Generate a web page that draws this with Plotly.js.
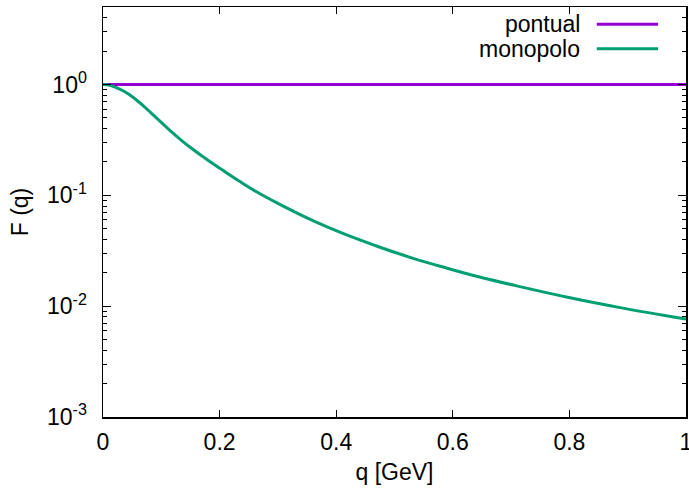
<!DOCTYPE html>
<html>
<head>
<meta charset="utf-8">
<script src="https://cdn.plot.ly/plotly-3.0.1.min.js"></script>
<style>html,body{margin:0;padding:0;background:#fff;}#chart{width:689px;height:493px;}</style>
</head>
<body>
<div id="chart"></div>
<script>
// Data
var qPontual = [0, 1];
var fPontual = [1, 1];

var qMonopolo = [0, 0.01, 0.02, 0.036, 0.045, 0.06, 0.075, 0.0935, 0.105, 0.12, 0.135, 0.15, 0.165, 0.18, 0.207, 0.235, 0.264, 0.30, 0.361, 0.418, 0.475, 0.532, 0.589, 0.646, 0.715, 0.801, 0.887, 1.0];
var fMonopolo = [1, 0.989, 0.953, 0.869, 0.811, 0.706, 0.603, 0.489, 0.430, 0.364, 0.312, 0.270, 0.236, 0.2075, 0.1663, 0.133, 0.107, 0.0845, 0.0587, 0.0439, 0.0340, 0.0270, 0.0221, 0.0183, 0.0150, 0.0119, 0.0097, 0.00764];

var yTickVals = [0.001, 0.01, 0.1, 1];
var yTickText = ['10<sup>-3</sup>', '10<sup>-2</sup>', '10<sup>-1</sup>', '10<sup>0</sup>'];
var xTickVals = [0, 0.2, 0.4, 0.6, 0.8, 1];
var xTickText = ['0', '0.2', '0.4', '0.6', '0.8', '1'];
var seriesNames = ['pontual', 'monopolo'];
var seriesColors = ['#9400D3', '#009E73'];

var minorVals = [];
yTickVals.forEach(function (d) {
  for (var k = 2; k <= 9; k++) minorVals.push(d * k);
});

var font = {family: 'Liberation Sans, Arial, sans-serif', size: 23, color: '#000'};
var yRange = [-3, Math.log10(5)];

var traces = [
  {x: qPontual, y: fPontual, mode: 'lines', name: seriesNames[0], line: {color: seriesColors[0], width: 3}, showlegend: false},
  {x: qMonopolo, y: fMonopolo, mode: 'lines', name: seriesNames[1], line: {color: seriesColors[1], width: 3, shape: 'spline', smoothing: 1}, showlegend: false}
];

// legend (gnuplot style: text right, sample on the right)
var legY = [0.958, 0.898];
var shapes = [], annotations = [];
for (var i = 0; i < 2; i++) {
  shapes.push({type: 'line', xref: 'paper', yref: 'paper', x0: 0.847, x1: 0.952, y0: legY[i], y1: legY[i], line: {color: seriesColors[i], width: 3}});
  annotations.push({xref: 'paper', yref: 'paper', x: 0.822, y: legY[i], xanchor: 'right', yanchor: 'middle', text: seriesNames[i], showarrow: false, font: font});
}

var layout = {
  width: 689, height: 493,
  margin: {l: 103, r: 3, t: 7, b: 76},
  paper_bgcolor: '#fff', plot_bgcolor: '#fff',
  font: font,
  showlegend: false,
  xaxis: {
    range: [0, 1], showgrid: false, zeroline: false,
    showline: true, linecolor: '#000', linewidth: 1.5, mirror: 'ticks',
    ticks: 'inside', ticklen: 7, tickcolor: '#000', tickwidth: 1,
    tickmode: 'array', tickvals: xTickVals, ticktext: xTickText,
    ticklabeloverflow: 'allow', ticklabelstandoff: 4,
    title: {text: 'q [GeV]', font: font, standoff: 10}
  },
  yaxis: {
    type: 'log', range: yRange, showgrid: false, zeroline: false,
    showline: true, linecolor: '#000', linewidth: 1.5, mirror: 'ticks',
    ticks: 'inside', ticklen: 8, tickcolor: '#000', tickwidth: 1,
    tickmode: 'array', tickvals: yTickVals, ticktext: yTickText,
    ticklabelstandoff: 10,
    minor: {ticks: 'inside', ticklen: 4, tickcolor: '#000', tickwidth: 1, tickmode: 'array', tickvals: minorVals, showgrid: false},
    title: {text: 'F (q)', font: font, standoff: 12}
  },
  shapes: shapes,
  annotations: annotations
};

Plotly.newPlot('chart', traces, layout, {staticPlot: true, displayModeBar: false});
</script>
</body>
</html>
